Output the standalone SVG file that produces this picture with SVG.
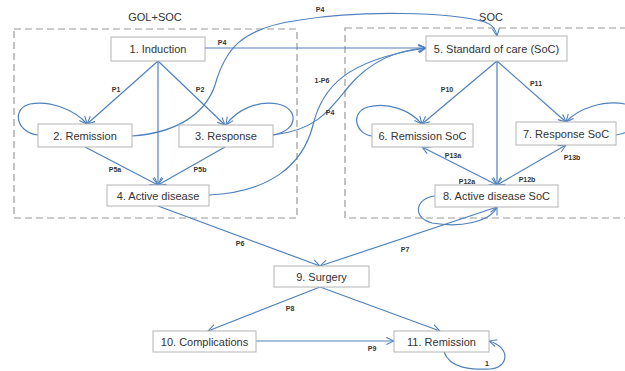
<svg xmlns="http://www.w3.org/2000/svg" width="625" height="371" viewBox="0 0 625 371">
<defs>
<marker id="arr" viewBox="0 0 10 10" refX="9.5" refY="5" markerWidth="9" markerHeight="9" markerUnits="userSpaceOnUse" orient="auto-start-reverse">
<path d="M1,1 L9.5,5 L1,9" fill="none" stroke="#4F81BD" stroke-width="1.2"/>
</marker>
<style>
.box{fill:#fff;stroke:#b4b4b4;stroke-width:1}
.nt{font-family:"Liberation Sans",Arial,sans-serif;font-size:11px;fill:#333;text-anchor:middle}
.lb{font-family:"Liberation Sans",Arial,sans-serif;font-size:7px;fill:#333;text-anchor:middle;font-weight:bold}
.gt{font-family:"Liberation Sans",Arial,sans-serif;font-size:11px;fill:#333;text-anchor:middle}
.c{fill:none;stroke:#4F81BD;stroke-width:1.2}
.ca{fill:none;stroke:#4F81BD;stroke-width:1.2;marker-end:url(#arr)}
.cb{fill:none;stroke:#4F81BD;stroke-width:1.2;marker-end:url(#arr);marker-start:url(#arr)}
.dash{fill:none;stroke:#9a9a9a;stroke-width:1.2;stroke-dasharray:7,4}
</style>
</defs>
<rect width="625" height="371" fill="#fff"/>
<g id="groups">
<rect class="dash" x="14" y="29" width="283" height="189"/>
<text class="gt" x="155" y="21">GOL+SOC</text>
<rect class="dash" x="345" y="28" width="290" height="190"/>
<text class="gt" x="491" y="21">SOC</text>
</g>
<g id="connectors">
<line class="ca" x1="158" y1="61" x2="87" y2="124"/>
<line class="ca" x1="158" y1="61" x2="225" y2="125"/>
<line class="ca" x1="158" y1="61" x2="158" y2="185"/>
<path class="ca" d="M38,135 C15,132 12,108 30,104 C50,100 75,110 87,124"/>
<path class="ca" d="M273,135 C300,130 298,108 278,104 C258,100 236,110 226,125"/>
<line class="ca" x1="85" y1="147" x2="158" y2="185"/>
<line class="ca" x1="225" y1="147" x2="158" y2="185"/>
<line class="ca" x1="205" y1="48" x2="426" y2="48"/>
<path class="ca" d="M132,136 C175,133 205,115 215,85 C225,50 240,28 300,20 C360,10 450,12 485,22 C493,25 496,29 497,36"/>
<path class="ca" d="M273,135 C320,130 333,105 350,85 C370,62 395,50 426,48"/>
<path class="ca" d="M209,195 C270,192 303,165 313,125 C322,88 345,60 426,48"/>
<line class="ca" x1="497" y1="61" x2="422" y2="124"/>
<line class="ca" x1="497" y1="61" x2="566" y2="122"/>
<line class="ca" x1="497" y1="61" x2="497" y2="185"/>
<path class="ca" d="M372,136 C355,134 350,112 368,107 C388,102 410,110 422,124"/>
<path class="ca" d="M616,135 C640,132 650,108 625,104 C605,100 578,108 566,122"/>
<line class="cb" x1="422" y1="147" x2="497" y2="185"/>
<line class="cb" x1="566" y1="145" x2="497" y2="185"/>
<path class="ca" d="M435,196 C415,198 412,218 432,223 C460,228 490,222 497,207"/>
<line class="ca" x1="497" y1="207" x2="320" y2="266"/>
<line class="ca" x1="158" y1="206" x2="320" y2="266"/>
<line class="ca" x1="320" y1="287" x2="208" y2="331"/>
<line class="ca" x1="320" y1="287" x2="440" y2="331"/>
<line class="ca" x1="256" y1="341" x2="394" y2="341"/>
<path class="ca" d="M444,352 C450,368 470,370 490,369 C508,368 512,348 489,341"/>
</g>
<g id="labels">
<text class="lb" x="116" y="92">P1</text>
<text class="lb" x="200" y="92">P2</text>
<text class="lb" x="222" y="45">P4</text>
<text class="lb" x="320" y="12">P4</text>
<text class="lb" x="330" y="115">P4</text>
<text class="lb" x="322" y="83">1-P6</text>
<text class="lb" x="115" y="172">P5a</text>
<text class="lb" x="200" y="172">P5b</text>
<text class="lb" x="447" y="92">P10</text>
<text class="lb" x="536" y="86">P11</text>
<text class="lb" x="453" y="158">P13a</text>
<text class="lb" x="572" y="160">P13b</text>
<text class="lb" x="467" y="184">P12a</text>
<text class="lb" x="527" y="182">P12b</text>
<text class="lb" x="240" y="246">P6</text>
<text class="lb" x="405" y="252">P7</text>
<text class="lb" x="290" y="311">P8</text>
<text class="lb" x="372" y="351">P9</text>
<text class="lb" x="487" y="366">1</text>
</g>
<g id="n1"><rect class="box" x="111" y="37" width="94" height="24"/><text class="nt" x="158" y="53">1. Induction</text></g>
<g id="n2"><rect class="box" x="38" y="124" width="94" height="23"/><text class="nt" x="85" y="139.5">2. Remission</text></g>
<g id="n3"><rect class="box" x="179" y="125" width="94" height="22"/><text class="nt" x="226" y="140">3. Response</text></g>
<g id="n4"><rect class="box" x="107" y="185" width="102" height="21"/><text class="nt" x="158" y="199.5">4. Active disease</text></g>
<g id="n5"><rect class="box" x="426" y="36" width="141" height="25"/><text class="nt" x="496.5" y="52.5">5. Standard of care (SoC)</text></g>
<g id="n6"><rect class="box" x="372" y="124" width="101" height="23"/><text class="nt" x="422.5" y="139.5">6. Remission SoC</text></g>
<g id="n7"><rect class="box" x="516" y="122" width="100" height="23"/><text class="nt" x="566" y="137.5">7. Response SoC</text></g>
<g id="n8"><rect class="box" x="435" y="185" width="123" height="22"/><text class="nt" x="496.5" y="200">8. Active disease SoC</text></g>
<g id="n9"><rect class="box" x="274" y="266" width="95" height="21"/><text class="nt" x="321.5" y="280.5">9. Surgery</text></g>
<g id="n10"><rect class="box" x="153" y="331" width="103" height="21"/><text class="nt" x="204.5" y="345.5">10. Complications</text></g>
<g id="n11"><rect class="box" x="394" y="331" width="95" height="21"/><text class="nt" x="441.5" y="345.5">11. Remission</text></g>
</svg>
